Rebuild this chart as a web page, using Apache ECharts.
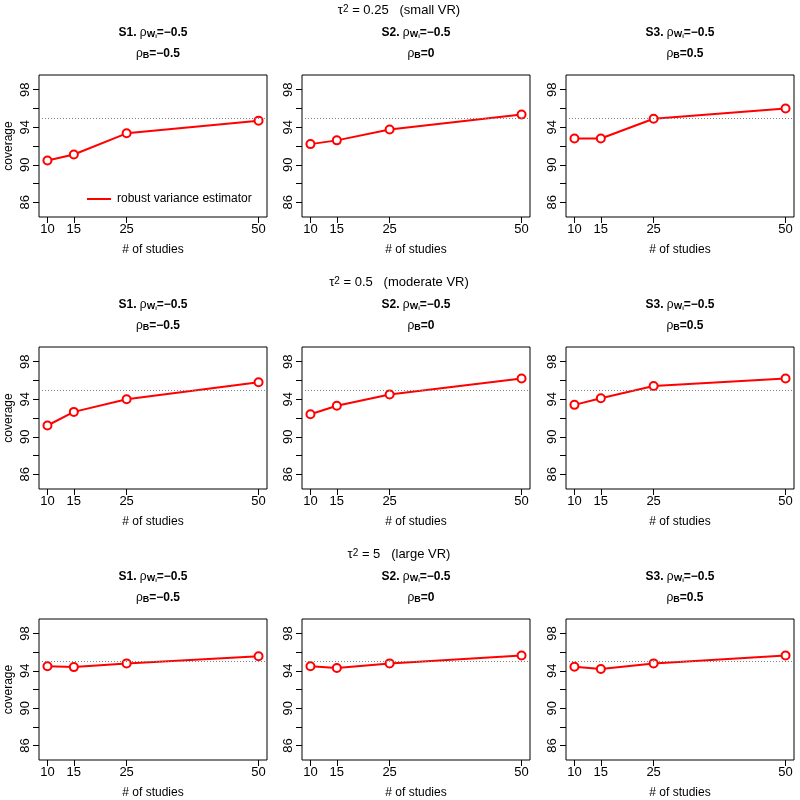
<!DOCTYPE html>
<html>
<head>
<meta charset="utf-8">
<script src="https://cdn.jsdelivr.net/npm/echarts@6/dist/echarts.min.js"></script>
<style>html,body{margin:0;padding:0;background:#fff}#c{width:800px;height:800px}</style>
</head>
<body>
<div id="c"></div>
<script>
// ---- data ----
const studies = [10, 15, 25, 50];
const yTicks = [86, 88, 90, 92, 94, 96, 98];
const yLabels = [86, 90, 94, 98];
const nominal = 95;
const tauValues = ['0.25', '0.5', '5'];
const tauLabels = ['small VR', 'moderate VR', 'large VR'];
const scenarios = ['S1', 'S2', 'S3'];
const rhoW = ['−0.5', '−0.5', '−0.5'];
const rhoB = ['−0.5', '0', '0.5'];
const seriesName = 'robust variance estimator';

const smallS1 = [90.45, 91.1, 93.35, 94.7];
const smallS2 = [92.2, 92.6, 93.75, 95.35];
const smallS3 = [92.8, 92.8, 94.9, 96.0];
const moderateS1 = [91.2, 92.65, 94.0, 95.8];
const moderateS2 = [92.4, 93.3, 94.5, 96.2];
const moderateS3 = [93.4, 94.1, 95.4, 96.2];
const largeS1 = [94.5, 94.4, 94.8, 95.57];
const largeS2 = [94.5, 94.3, 94.8, 95.65];
const largeS3 = [94.43, 94.2, 94.8, 95.65];
const coverage = [[smallS1, smallS2, smallS3], [moderateS1, moderateS2, moderateS3], [largeS1, largeS2, largeS3]];

// ---- layout ----
const colLeft = [39, 302, 566];
const rowTop = [75, 347, 619];
const boxW = 228, boxH = 142;
const FONT = 'Liberation Sans, Arial, sans-serif';

const grids = [], xAxes = [], yAxes = [], series = [], graphics = [];
for (let r = 0; r < 3; r++) {
  for (let c = 0; c < 3; c++) {
    const idx = r * 3 + c;
    grids.push({left: colLeft[c], top: rowTop[r], width: boxW, height: boxH, show: true,
      borderColor: '#000', borderWidth: 1, backgroundColor: 'transparent', containLabel: false});
    xAxes.push({type: 'value', gridIndex: idx, min: 8.4, max: 51.6,
      name: '# of studies', nameLocation: 'middle', nameGap: 27,
      nameTextStyle: {fontFamily: FONT, fontSize: 12, color: '#000'},
      axisLine: {show: false}, splitLine: {show: false},
      axisTick: {show: true, length: 6, inside: false, customValues: studies, lineStyle: {color: '#000'}},
      axisLabel: {show: true, customValues: studies, margin: 6, fontFamily: FONT, fontSize: 13, color: '#000'}});
    yAxes.push({type: 'value', gridIndex: idx, min: 84.44, max: 99.56,
      name: c === 0 ? 'coverage' : '', nameLocation: 'middle', nameGap: 24,
      nameTextStyle: {fontFamily: FONT, fontSize: 12, color: '#000'},
      axisLine: {show: false}, splitLine: {show: false},
      axisTick: {show: true, length: 6, inside: false, customValues: yTicks, lineStyle: {color: '#000'}},
      axisLabel: {show: true, customValues: yLabels, rotate: 90, margin: 7, fontFamily: FONT, fontSize: 13, color: '#000'}});
    series.push({type: 'line', name: seriesName, xAxisIndex: idx, yAxisIndex: idx,
      data: studies.map((s, i) => [s, coverage[r][c][i]]),
      lineStyle: {color: '#ff0000', width: 2},
      itemStyle: {color: '#ff0000', borderWidth: 1.6},
      symbol: 'emptyCircle', symbolSize: 8, showSymbol: true,
      markLine: {silent: true, symbol: 'none', label: {show: false},
        lineStyle: {color: '#808080', type: [1, 2], width: 1},
        data: [{yAxis: nominal}]},
      z: 3});
    // panel titles
    const cx = colLeft[c] + boxW / 2;
    const boldRich = {
      a: {fontFamily: FONT, fontSize: 12, fontWeight: 'bold', color: '#000', lineHeight: 12, verticalAlign: 'top'},
      s: {fontFamily: FONT, fontSize: 9, fontWeight: 'bold', color: '#000', lineHeight: 9, padding: [6, 0, 0, 0], verticalAlign: 'bottom'},
      ss: {fontFamily: FONT, fontSize: 6, fontWeight: 'bold', color: '#000', lineHeight: 6, padding: [12, 0, 0, 0], verticalAlign: 'bottom'},
      sn: {fontFamily: FONT, fontSize: 12, fontWeight: 'normal', color: '#000', lineHeight: 12, verticalAlign: 'top'}
    };
    graphics.push({type: 'text', x: cx, y: rowTop[r] - 48, style: {
      text: '{a|' + scenarios[c] + '. }{sn|ρ}{s|W}{ss|i}{a|=' + rhoW[c] + '}', rich: boldRich,
      textAlign: 'center', textVerticalAlign: 'top'}});
    graphics.push({type: 'text', x: cx + 5, y: rowTop[r] - 27, style: {
      text: '{sn|ρ}{s|B}{a|=' + rhoB[c] + '}', rich: boldRich,
      textAlign: 'center', textVerticalAlign: 'top'}});
  }
  // row title
  graphics.push({type: 'text', x: 399, y: rowTop[r] - 71, style: {
    text: '{m|τ}{p|2}{m| = ' + tauValues[r] + '   (' + tauLabels[r] + ')}',
    rich: {
      m: {fontFamily: FONT, fontSize: 13, color: '#000', lineHeight: 13, padding: [4, 0, 0, 0], verticalAlign: 'bottom'},
      p: {fontFamily: FONT, fontSize: 10, color: '#000', lineHeight: 10, verticalAlign: 'top'}
    },
    textAlign: 'center', textVerticalAlign: 'top'}});
}

const chart = echarts.init(document.getElementById('c'), null, {renderer: 'canvas'});
chart.setOption({
  animation: false,
  backgroundColor: '#fff',
  grid: grids, xAxis: xAxes, yAxis: yAxes, series: series,
  legend: {show: true, left: 82, top: 188, orient: 'vertical', itemWidth: 24, itemHeight: 2, itemGap: 4,
    icon: 'rect', itemStyle: {color: '#ff0000', borderWidth: 0},
    data: [{name: seriesName, icon: 'rect', itemStyle: {color: '#ff0000', borderWidth: 0}}],
    textStyle: {fontFamily: FONT, fontSize: 12, color: '#000', padding: [0, 0, 0, 1]},
    selectedMode: false},
  graphic: graphics
});
</script>
</body>
</html>
